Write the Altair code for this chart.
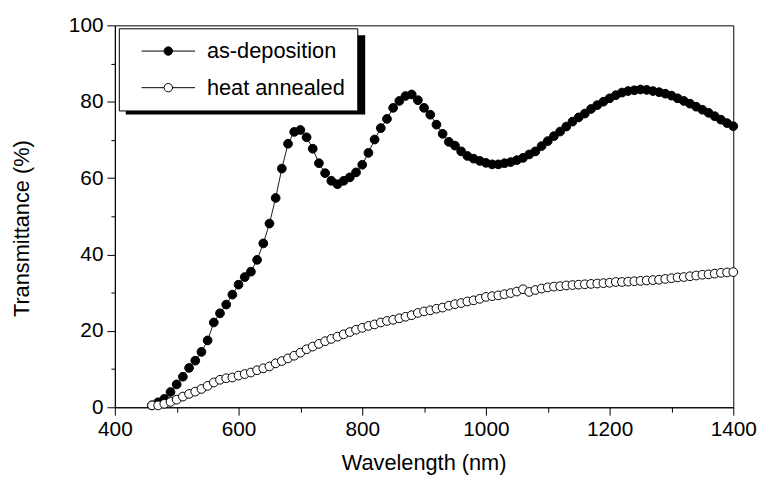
import altair as alt
import pandas as pd

# ---- data ----
wavelength = list(range(460, 1401, 10))
as_deposition = [
    0.5, 1.3, 2.2, 4.0, 6.0, 8.0, 10.3, 12.2, 14.5, 17.5,
    22.2, 24.6, 26.9, 29.5, 32.1, 34.1, 35.5, 38.6, 42.9, 48.1,
    54.8, 62.5, 69.0, 72.1, 72.6, 70.7, 67.7, 63.9, 61.3, 59.3,
    58.4, 59.3, 60.2, 61.5, 63.5, 66.6, 70.1, 73.1, 75.5, 78.4,
    80.2, 81.5, 81.9, 80.4, 78.4, 76.6, 74.0, 71.6, 69.5, 68.5,
    67.0, 65.8, 65.1, 64.5, 64.0, 63.6, 63.6, 63.9, 64.2, 64.7,
    65.3, 66.2, 67.0, 68.4, 69.7, 71.0, 72.2, 73.5, 74.8, 75.9,
    76.9, 78.1, 79.1, 80.0, 80.9, 81.7, 82.4, 82.8, 83.0, 83.2,
    83.1, 82.8, 82.5, 82.1, 81.6, 80.9, 80.2, 79.5, 78.7, 77.9,
    77.1, 76.2, 75.3, 74.4, 73.6,
]
heat_annealed = [
    0.5, 0.5, 0.9, 1.4, 2.0, 2.8, 3.5, 4.1, 4.8, 5.6,
    6.5, 7.2, 7.6, 7.8, 8.3, 8.7, 9.1, 9.7, 10.2, 10.7,
    11.5, 12.1, 12.8, 13.5, 14.3, 15.2, 15.9, 16.6, 17.3, 17.9,
    18.5, 19.1, 19.7, 20.3, 20.8, 21.3, 21.7, 22.2, 22.6, 22.9,
    23.3, 23.7, 24.1, 24.7, 25.1, 25.4, 25.8, 26.1, 26.6, 27.0,
    27.3, 27.7, 28.0, 28.4, 28.9, 29.1, 29.3, 29.6, 29.9, 30.3,
    30.9, 30.2, 30.7, 31.1, 31.4, 31.6, 31.7, 31.9, 32.0, 32.1,
    32.2, 32.3, 32.4, 32.5, 32.6, 32.8, 32.8, 32.9, 33.0, 33.1,
    33.2, 33.3, 33.4, 33.6, 33.8, 34.0, 34.1, 34.3, 34.5, 34.7,
    34.8, 35.0, 35.2, 35.3, 35.4,
]
series_names = ["as-deposition", "heat annealed"]
x_ticks = [400, 500, 600, 700, 800, 900, 1000, 1100, 1200, 1300, 1400]
y_ticks = [0, 10, 20, 30, 40, 50, 60, 70, 80, 90, 100]

df = pd.DataFrame({
    "wavelength": wavelength + wavelength,
    "T": as_deposition + heat_annealed,
    "series": [series_names[0]] * len(wavelength) + [series_names[1]] * len(wavelength),
})

FONT = "Liberation Sans"

x_enc = alt.X(
    "wavelength:Q",
    scale=alt.Scale(domain=[400, 1400], nice=False, zero=False),
    axis=alt.Axis(
        values=x_ticks,
        format="d",
        labelExpr="datum.value % 200 === 0 ? datum.label : ''",
        labelFlush=False,
        labelOverlap=False,
        tickSize={"condition": {"test": "datum.value % 200 !== 0", "value": 5}, "value": 8},
        labelPadding=4,
        labelFontSize=21,
        title="Wavelength (nm)",
        titleFontSize=22,
        titleX=312,
        titleY=56,
        titleBaseline="middle",
    ),
)
y_enc = alt.Y(
    "T:Q",
    scale=alt.Scale(domain=[0, 100], nice=False),
    axis=alt.Axis(
        values=y_ticks,
        labelExpr="datum.value % 20 === 0 ? datum.label : ''",
        labelOverlap=False,
        tickSize={"condition": {"test": "datum.value % 20 !== 0", "value": 4}, "value": 8},
        labelPadding=4,
        labelFontSize=21,
        title="Transmittance (%)",
        titleFontSize=22,
        titleX=-94,
        titleY=205,
        titleAngle=-90,
        titleBaseline="middle",
    ),
)

base = alt.Chart(df)

lines = base.mark_line(color="black", strokeWidth=0.9).encode(
    x=x_enc, y=y_enc, detail="series:N"
)

legend_symbol = (
    "M0,0H4.55M6.25,0H10.8"
    "M6.25,0A0.85,0.85,0,1,1,4.55,0A0.85,0.85,0,1,1,6.25,0Z"
)

points = base.mark_circle(size=78, stroke="black", strokeWidth=1, opacity=1).encode(
    x=x_enc,
    y=y_enc,
    fill=alt.Fill(
        "series:N",
        scale=alt.Scale(domain=series_names, range=["black", "white"]),
        legend=alt.Legend(
            orient="none",
            legendX=4,
            legendY=3,
            title=None,
            symbolType=legend_symbol,
            symbolSize=100,
            symbolStrokeColor="black",
            symbolStrokeWidth=1,
            symbolOpacity=1,
            labelFont=FONT,
            labelFontSize=22,
            labelColor="black",
            labelOffset=55,
            padding=12,
            rowPadding=15,
            strokeColor="black",
            fillColor="white",
        ),
    ),
)

shadow = alt.Chart(alt.Data(values=[{"k": 1}])).mark_rect(color="black").encode(
    x=alt.value(11), x2=alt.value(253), y=alt.value(10), y2=alt.value(90)
)

chart = (
    alt.layer(shadow, lines, points)
    .properties(
        width=625,
        height=386,
        padding={"left": 108, "top": 15, "right": 27, "bottom": 74},
        autosize=alt.AutoSizeParams(type="none"),
        background="white",
    )
    .configure_view(stroke="black", strokeWidth=1)
    .configure_axis(
        domainColor="black",
        tickColor="black",
        labelColor="black",
        titleColor="black",
        labelFont=FONT,
        titleFont=FONT,
        titleFontWeight="normal",
        grid=False,
        domainWidth=1,
        tickWidth=1,
    )
)

chart.save("out.html", embed_options={"renderer": "svg", "actions": False})
